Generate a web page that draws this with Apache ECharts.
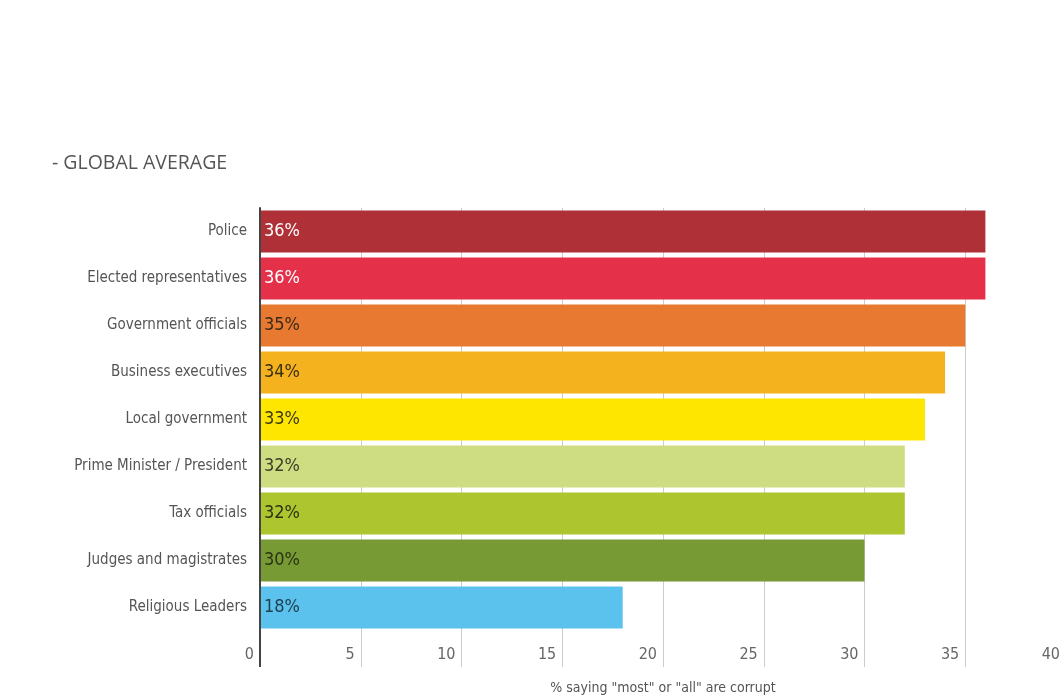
<!DOCTYPE html>
<html>
<head>
<meta charset="utf-8">
<script src="https://cdn.jsdelivr.net/npm/echarts@6/dist/echarts.min.js"></script>
<style>
html,body{margin:0;padding:0;background:#fff;}
#chart{width:1059px;height:696px;}
</style>
</head>
<body>
<div id="chart"></div>
<script>
const categories = ["Police", "Elected representatives", "Government officials", "Business executives", "Local government", "Prime Minister / President", "Tax officials", "Judges and magistrates", "Religious Leaders"];
const values = [36, 36, 35, 34, 33, 32, 32, 30, 18];
const xTicks = [0, 5, 10, 15, 20, 25, 30, 35, 40];
const title = "- GLOBAL AVERAGE";
const xName = '% saying "most" or "all" are corrupt';

const barColors = ["#b03037", "#e5304a", "#e77a30", "#f5b21f", "#ffe600", "#cedc82", "#adc630", "#779a35", "#5bc2ee"];
const labelColors = ["#ffffff", "#ffffff", "#3a2a1a", "#3a2f10", "#3a3a10", "#3a3f2a", "#2a3310", "#2a3310", "#1f4050"];

const FONT = "'Liberation Sans Narrow', 'DejaVu Sans Condensed', 'Roboto Condensed', sans-serif";
const xMin = xTicks[0], xMax = xTicks[xTicks.length - 1];

const chart = echarts.init(document.getElementById('chart'), null, {renderer: 'canvas'});
chart.setOption({
  backgroundColor: '#ffffff',
  animation: false,
  title: {
    text: title,
    left: 47, top: 148,
    textStyle: {fontFamily: "'Open Sans', 'Noto Sans', sans-serif", fontSize: 19.5, fontWeight: 'normal', color: '#555'}
  },
  grid: {left: 260, width: 806, top: 208, height: 423, containLabel: false, outerBoundsMode: 'none'},
  xAxis: [{
    type: 'value',
    min: xMin, max: xMax, interval: 5,
    position: 'bottom',
    name: xName,
    nameLocation: 'middle',
    nameGap: 50,
    nameTextStyle: {fontFamily: FONT, fontSize: 14, color: '#555'},
    axisLine: {show: false},
    axisTick: {show: true, length: 36, lineStyle: {color: '#cccccc', width: 1}},
    axisLabel: {
      fontFamily: FONT, fontSize: 16, color: '#666',
      align: 'right', verticalAlign: 'middle', margin: 24,
      padding: [0, 6, 0, 0],
      formatter: v => String(v)
    },
    splitLine: {show: true, lineStyle: {color: '#cccccc', width: 1}}
  }, {
    type: 'value',
    min: xMin, max: xMax, interval: xMax - xMin,
    position: 'bottom',
    z: 6,
    axisLine: {show: false},
    axisTick: {show: true, length: 36, lineStyle: {color: '#444', width: 2}},
    axisLabel: {show: false},
    splitLine: {show: false}
  }],
  yAxis: {
    type: 'category',
    data: categories,
    inverse: true,
    z: 5,
    axisLine: {show: true, lineStyle: {color: '#444', width: 2}},
    axisTick: {show: false},
    axisLabel: {fontFamily: FONT, fontSize: 15, color: '#555', margin: 13},
    splitLine: {show: false}
  },
  series: [{
    type: 'bar',
    barWidth: 42,
    xAxisIndex: 0,
    data: values.map((v, i) => ({
      value: v,
      itemStyle: {color: barColors[i]},
      label: {color: labelColors[i]}
    })),
    label: {
      show: true,
      position: 'insideLeft',
      distance: 4,
      fontFamily: FONT,
      fontSize: 18,
      formatter: p => p.value + '%'
    }
  }]
});
</script>
</body>
</html>
